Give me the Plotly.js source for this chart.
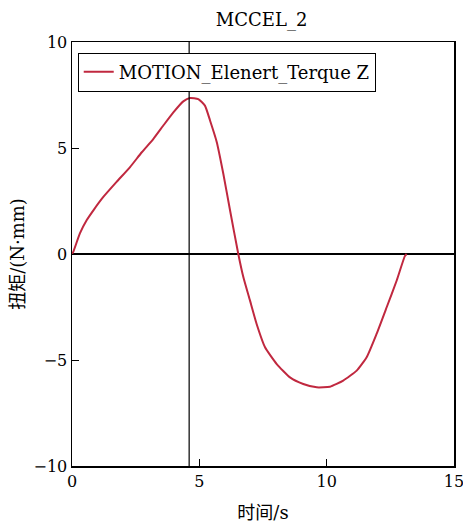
<!DOCTYPE html>
<html>
<head>
<meta charset="utf-8">
<script src="https://cdn.plot.ly/plotly-3.0.1.min.js"></script>
<style>html,body{margin:0;padding:0;background:#fff;}#chart{width:463px;height:524px;}</style>
</head>
<body>
<div id="chart"></div>
<script>
const timeS = [0, 0.05, 0.31, 0.58, 0.84, 1.23, 1.75, 2.28, 2.74, 3.19, 3.58, 3.98, 4.37, 4.63, 4.96, 5.22, 5.42, 5.68, 5.94, 6.2, 6.53, 6.73, 6.99, 7.25, 7.58, 8.04, 8.56, 9.08, 9.61, 10.13, 10.65, 11.18, 11.57, 11.96, 12.36, 12.75, 13.07, 13.14];
const torque = [0, 0.1, 0.97, 1.6, 2.06, 2.69, 3.4, 4.1, 4.8, 5.42, 6.05, 6.68, 7.2, 7.36, 7.31, 7.0, 6.3, 5.3, 3.8, 2.1, 0, -1.1, -2.2, -3.3, -4.4, -5.19, -5.82, -6.13, -6.29, -6.26, -5.97, -5.5, -4.87, -3.77, -2.5, -1.25, -0.1, 0];
const markerTime = 4.6;
const seriesName = 'MOTION_Elenert_Terque Z';
const xTicks = [0, 5, 10, 15];
const yTicks = [-10, -5, 0, 5, 10];
const yTickText = ['\u221210', '\u22125', '0', '5', '10'];

const fontFam = 'DejaVu Serif, Noto Sans CJK SC';

Plotly.newPlot('chart', [{
  x: timeS, y: torque, type: 'scatter', mode: 'lines', name: seriesName,
  line: {color: '#c0283f', width: 2, shape: 'spline', smoothing: 0.5},
  showlegend: true
}], {
  width: 463, height: 524,
  margin: {l: 72, r: 9, t: 42, b: 58},
  paper_bgcolor: '#fff', plot_bgcolor: '#fff',
  font: {family: fontFam, size: 16, color: '#000'},
  title: {text: 'MCCEL_2', x: 0.565, xanchor: 'center', y: 0.975, yanchor: 'top', font: {size: 18}},
  showlegend: true,
  legend: {x: 0.015, y: 0.975, xanchor: 'left', yanchor: 'top', bordercolor: '#000', borderwidth: 1, bgcolor: '#fff', font: {size: 18}},
  xaxis: {
    range: [0, 15], tickvals: xTicks, ticktext: xTicks.map(String), ticklabeloverflow: 'allow',
    ticks: 'inside', ticklen: 7, tickcolor: '#000', showline: true, linecolor: '#000', linewidth: 1.5, mirror: true,
    showgrid: false, zeroline: false, tickfont: {size: 16},
    title: {text: '时间/s', standoff: 16, font: {size: 18}}
  },
  yaxis: {
    range: [-10, 10], tickvals: yTicks, ticktext: yTickText,
    ticks: 'inside', ticklen: 7, tickcolor: '#000', showline: true, linecolor: '#000', linewidth: 1.5, mirror: true,
    showgrid: false, zeroline: true, zerolinecolor: '#000', zerolinewidth: 1.2, tickfont: {size: 16},
    title: {text: '扭矩/(N·mm)', standoff: 4, font: {size: 18}}
  },
  shapes: [{type: 'line', xref: 'x', yref: 'paper', x0: markerTime, x1: markerTime, y0: 0, y1: 1, line: {color: '#000', width: 1.2}}]
}, {displayModeBar: false, staticPlot: true});
</script>
</body>
</html>
